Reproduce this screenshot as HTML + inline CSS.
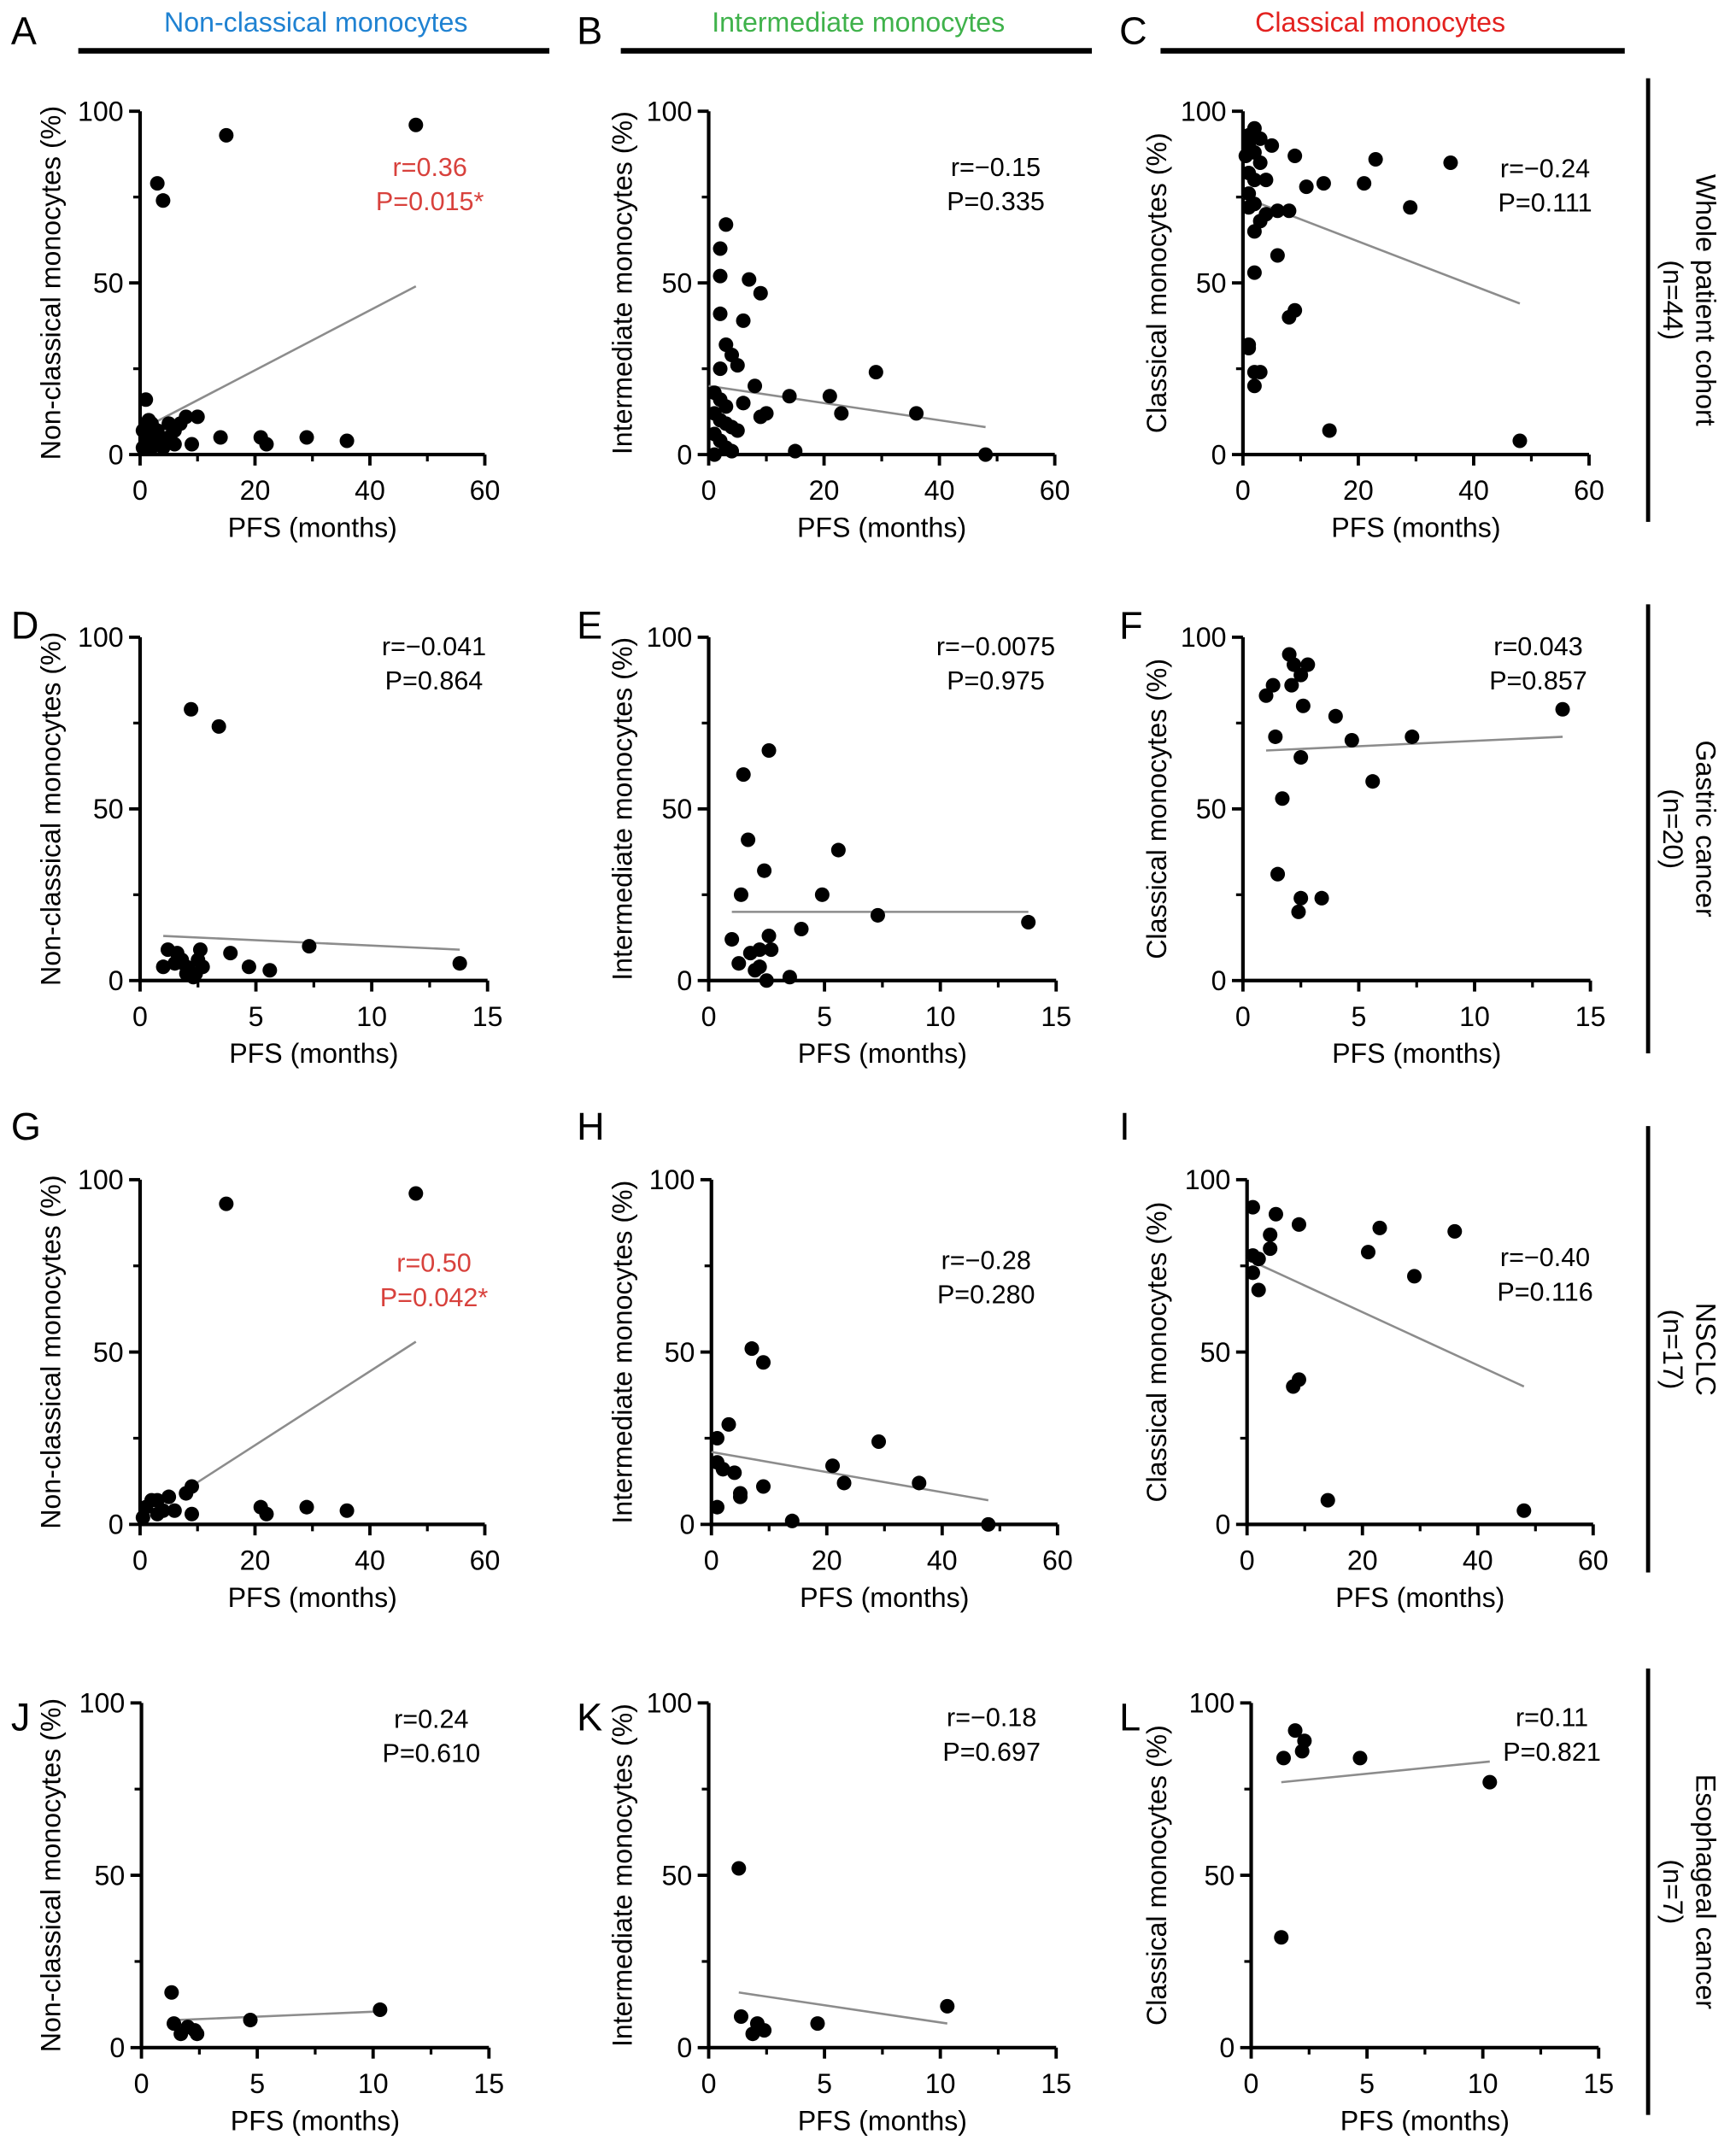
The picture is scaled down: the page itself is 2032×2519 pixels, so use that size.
<!DOCTYPE html>
<html><head><meta charset="utf-8"><style>
html,body{margin:0;padding:0;background:#fff}
svg{display:block;font-family:"Liberation Sans",Arial,sans-serif}
</style></head><body>
<svg id="fig" width="2032" height="2519" viewBox="0 0 1264 1567" preserveAspectRatio="none" xmlns="http://www.w3.org/2000/svg"></svg>
<script>
// ---- data ----
const pfsA=[1,3,4,15,48,1,1,1,2,2,2,3,3,4,5,5,6,7,8,9,10,14,21,22,29,36,0.5,0.5,1.5,6];
const valA=[16,79,74,93,96,5,8,3,2,6,9,4,7,2,5,9,3,9,11,3,11,5,5,3,5,4,2,7,10,7];
const pfsB=[3,2,2,7,9,2,6,3,4,2,5,8,1,2,3,1,2,3,1,2,3,4,5,6,9,10,14,15,21,23,29,36,48,4,1];
const valB=[67,60,52,51,47,41,39,32,29,25,26,20,18,16,14,12,10,9,6,4,2,1,7,15,11,12,17,1,17,12,24,12,0,8,0];
const pfsC=[1,2,1,2,3,1,2,3,5,4,1,2,3,2,4,6,9,8,11,14,21,23,36,29,6,2,1,1,3,2,2,8,9,15,48,0.5,1];
const valC=[93,95,90,88,85,82,80,92,90,80,76,73,68,65,70,71,87,71,78,79,79,86,85,72,58,53,32,31,24,24,20,40,42,7,4,87,72];
const pfsD=[2.2,3.4,1.2,1.5,1.6,2,2,2.3,2.5,2.6,2.7,1,1.8,3.9,4.7,5.6,7.3,13.8,2.1,2.4];
const valD=[79,74,9,5,8,4,2,1,6,9,4,4,6,8,4,3,10,5,3,2];
const pfsE=[1.5,1.7,2.6,2.4,1.4,5.6,4.9,7.3,13.8,1,2.2,2.6,4,1.3,2,2.2,3.5,2.5,2.7,1.8];
const valE=[60,41,67,32,25,38,25,19,17,12,9,13,15,5,3,4,1,0,9,8];
const pfsF=[2,2.2,2.5,2.1,1.3,1,2.6,4,4.7,1.4,2.5,1.7,5.6,7.3,13.8,1.5,2.5,3.4,2.4,2.8];
const valF=[95,92,89,86,86,83,80,77,70,71,65,53,58,71,79,31,24,24,20,92];
const pfsG=[15,48,1,2,3,3,4,5,6,8,9,9,21,22,29,36,0.5];
const valG=[93,96,5,7,3,7,4,8,4,9,11,3,5,3,5,4,2];
const pfsH=[7,9,3,1,1,2,4,5,5,9,14,21,23,29,36,48,1];
const valH=[51,47,29,25,18,16,15,8,9,11,1,17,12,24,12,0,5];
const pfsI=[1,5,9,4,4,1,2,1,2,21,23,36,29,8,9,14,48];
const valI=[92,90,87,84,80,78,77,73,68,79,86,85,72,40,42,7,4];
const pfsJ=[1.3,1.4,2,1.7,2.3,2.4,4.7,10.3];
const valJ=[16,7,6,4,5,4,8,11];
const pfsK=[1.3,1.4,2.1,1.9,2.4,4.7,10.3];
const valK=[52,9,7,4,5,7,12];
const pfsL=[1.9,2.3,2.2,1.4,4.7,10.3,1.3];
const valL=[92,89,86,84,84,77,32];
const fitX={A:[1,48],B:[0,48],C:[0,48],D:[1,13.8],E:[1,13.8],F:[1,13.8],G:[7,48],H:[0,48],I:[0,48],J:[1.5,10.3],K:[1.3,10.3],L:[1.3,10.3]};
const fitY={A:[8,49],B:[20,8],C:[75,44],D:[13,9],E:[20,20],F:[67,71],G:[9,53],H:[21,7],I:[77,40],J:[8,10.5],K:[16,7],L:[77,83]};
const statR={A:"r=0.36",B:"r=\u22120.15",C:"r=\u22120.24",D:"r=\u22120.041",E:"r=\u22120.0075",F:"r=0.043",G:"r=0.50",H:"r=\u22120.28",I:"r=\u22120.40",J:"r=0.24",K:"r=\u22120.18",L:"r=0.11"};
const statP={A:"P=0.015*",B:"P=0.335",C:"P=0.111",D:"P=0.864",E:"P=0.975",F:"P=0.857",G:"P=0.042*",H:"P=0.280",I:"P=0.116",J:"P=0.610",K:"P=0.697",L:"P=0.821"};
const xTicks60=[0,20,40,60], xTicks15=[0,5,10,15], yTicks=[0,50,100];

// ---- layout ----
const NS="http://www.w3.org/2000/svg";
const svg=document.getElementById('fig');
function mk(tag,attrs,parent,text){const e=document.createElementNS(NS,tag);for(const k in attrs)e.setAttribute(k,attrs[k]);if(text!==undefined)e.textContent=text;(parent||svg).appendChild(e);return e;}
const panels=[
 {id:'A',pfs:pfsA,val:valA,x0:102,x1:353,y0:331,y1:81,max:60,yl:'Non-classical monocytes (%)',tx:37,sx:313,sy:121,red:true,lx:8,ly:22},
 {id:'B',pfs:pfsB,val:valB,x0:516,x1:768,y0:331,y1:81,max:60,yl:'Intermediate monocytes (%)',tx:453,sx:725,sy:121,lx:420,ly:22},
 {id:'C',pfs:pfsC,val:valC,x0:905,x1:1157,y0:331,y1:81,max:60,yl:'Classical monocytes (%)',tx:842,sx:1125,sy:122,lx:815,ly:22},
 {id:'D',pfs:pfsD,val:valD,x0:102,x1:355,y0:714,y1:464,max:15,yl:'Non-classical monocytes (%)',tx:37,sx:316,sy:470,lx:8,ly:455},
 {id:'E',pfs:pfsE,val:valE,x0:516,x1:769,y0:714,y1:464,max:15,yl:'Intermediate monocytes (%)',tx:453,sx:725,sy:470,lx:420,ly:455},
 {id:'F',pfs:pfsF,val:valF,x0:905,x1:1158,y0:714,y1:464,max:15,yl:'Classical monocytes (%)',tx:842,sx:1120,sy:470,lx:815,ly:455},
 {id:'G',pfs:pfsG,val:valG,x0:102,x1:353,y0:1110,y1:859,max:60,yl:'Non-classical monocytes (%)',tx:37,sx:316,sy:919,red:true,lx:8,ly:820},
 {id:'H',pfs:pfsH,val:valH,x0:518,x1:770,y0:1110,y1:859,max:60,yl:'Intermediate monocytes (%)',tx:453,sx:718,sy:917,lx:420,ly:820},
 {id:'I',pfs:pfsI,val:valI,x0:908,x1:1160,y0:1110,y1:859,max:60,yl:'Classical monocytes (%)',tx:842,sx:1125,sy:915,lx:815,ly:820},
 {id:'J',pfs:pfsJ,val:valJ,x0:103,x1:356,y0:1491,y1:1240,max:15,yl:'Non-classical monocytes (%)',tx:37,sx:314,sy:1251,lx:8,ly:1250},
 {id:'K',pfs:pfsK,val:valK,x0:516,x1:769,y0:1491,y1:1240,max:15,yl:'Intermediate monocytes (%)',tx:453,sx:722,sy:1250,lx:420,ly:1250},
 {id:'L',pfs:pfsL,val:valL,x0:911,x1:1164,y0:1491,y1:1240,max:15,yl:'Classical monocytes (%)',tx:842,sx:1130,sy:1250,lx:815,ly:1250}
];
panels.forEach(p=>{
 const g=mk('g',{});
 
 
 const X=v=>p.x0+(p.x1-p.x0)*v/p.max, Y=v=>p.y0+(p.y1-p.y0)*v/100;
 const lab=mk('text',{x:p.lx,y:p.ly+10,'font-size':28,fill:'#000'},g,p.id);
 
 const ax=mk('path',{d:`M${p.x0} ${p.y1}V${p.y0}H${p.x1}`,stroke:'#000','stroke-width':2.6,fill:'none'},g);
 
 yTicks.forEach(t=>{
  mk('line',{x1:p.x0-8,x2:p.x0,y1:Y(t),y2:Y(t),stroke:'#000','stroke-width':2.4},g);
  const tl=mk('text',{x:p.x0-12,y:Y(t)+7,'font-size':20,'text-anchor':'end'},g,t);
  
 });
 [25,75].forEach(t=>mk('line',{x1:p.x0-5,x2:p.x0,y1:Y(t),y2:Y(t),stroke:'#000','stroke-width':2}, g));
 const xt=p.max==60?xTicks60:xTicks15;
 xt.forEach(t=>{
  mk('line',{x1:X(t),x2:X(t),y1:p.y0,y2:p.y0+8,stroke:'#000','stroke-width':2.4},g);
  const tl=mk('text',{x:X(t),y:p.y0+33,'font-size':20,'text-anchor':'middle'},g,t);
  
 });
 for(let i=0;i<3;i++){const m=(xt[i]+xt[i+1])/2;mk('line',{x1:X(m),x2:X(m),y1:p.y0,y2:p.y0+5,stroke:'#000','stroke-width':2},g);}
 const xl=mk('text',{x:(p.x0+p.x1)/2,y:p.y0+60,'font-size':20,'text-anchor':'middle'},g,'PFS (months)');
 
 const yc=(p.y0+p.y1)/2;
 const yl=mk('text',{x:p.tx,y:yc,'font-size':20,'text-anchor':'middle',transform:`rotate(-90 ${p.tx} ${yc})`,dy:7},g,p.yl);
 
 const fl=mk('line',{x1:X(fitX[p.id][0]),x2:X(fitX[p.id][1]),y1:Y(fitY[p.id][0]),y2:Y(fitY[p.id][1]),stroke:'#8c8c8c','stroke-width':1.6},g);
 
 p.pfs.forEach((v,i)=>{
  const c=mk('circle',{cx:X(v),cy:Y(p.val[i]),r:5.3,fill:'#000'},g);
  
  
 });
 const col=p.red?'#d8413c':'#000';
 const s1=mk('text',{x:p.sx,y:p.sy+7,'font-size':19,'text-anchor':'middle',fill:col},g,statR[p.id]);
 
 const s2=mk('text',{x:p.sx,y:p.sy+32,'font-size':19,'text-anchor':'middle',fill:col},g,statP[p.id]);
 
});
[[230,57,400,'Non-classical monocytes','#1f82d2'],[625,452,795,'Intermediate monocytes','#3fb24b'],[1005,845,1183,'Classical monocytes','#e3211f']].forEach(h=>{
 const t=mk('text',{x:h[0],y:23,'font-size':20,'text-anchor':'middle',fill:h[4]},svg,h[3]);
 
 const l=mk('line',{x1:h[1],x2:h[2],y1:37,y2:37,stroke:'#000','stroke-width':4});
 
});
[[57,380,'Whole patient cohort','(n=44)'],[440,767,'Gastric cancer','(n=20)'],[820,1145,'NSCLC','(n=17)'],[1215,1540,'Esophageal cancer','(n=7)']].forEach(r=>{
 const l=mk('line',{x1:1200,x2:1200,y1:r[0],y2:r[1],stroke:'#000','stroke-width':3});
 
 const c=(r[0]+r[1])/2;
 const t1=mk('text',{x:1242,y:c,'font-size':20,'text-anchor':'middle',transform:`rotate(90 1242 ${c})`,dy:7},svg,r[2]);
 
 const t2=mk('text',{x:1218,y:c,'font-size':20,'text-anchor':'middle',transform:`rotate(90 1218 ${c})`,dy:7},svg,r[3]);
 
});
</script>
</body></html>
